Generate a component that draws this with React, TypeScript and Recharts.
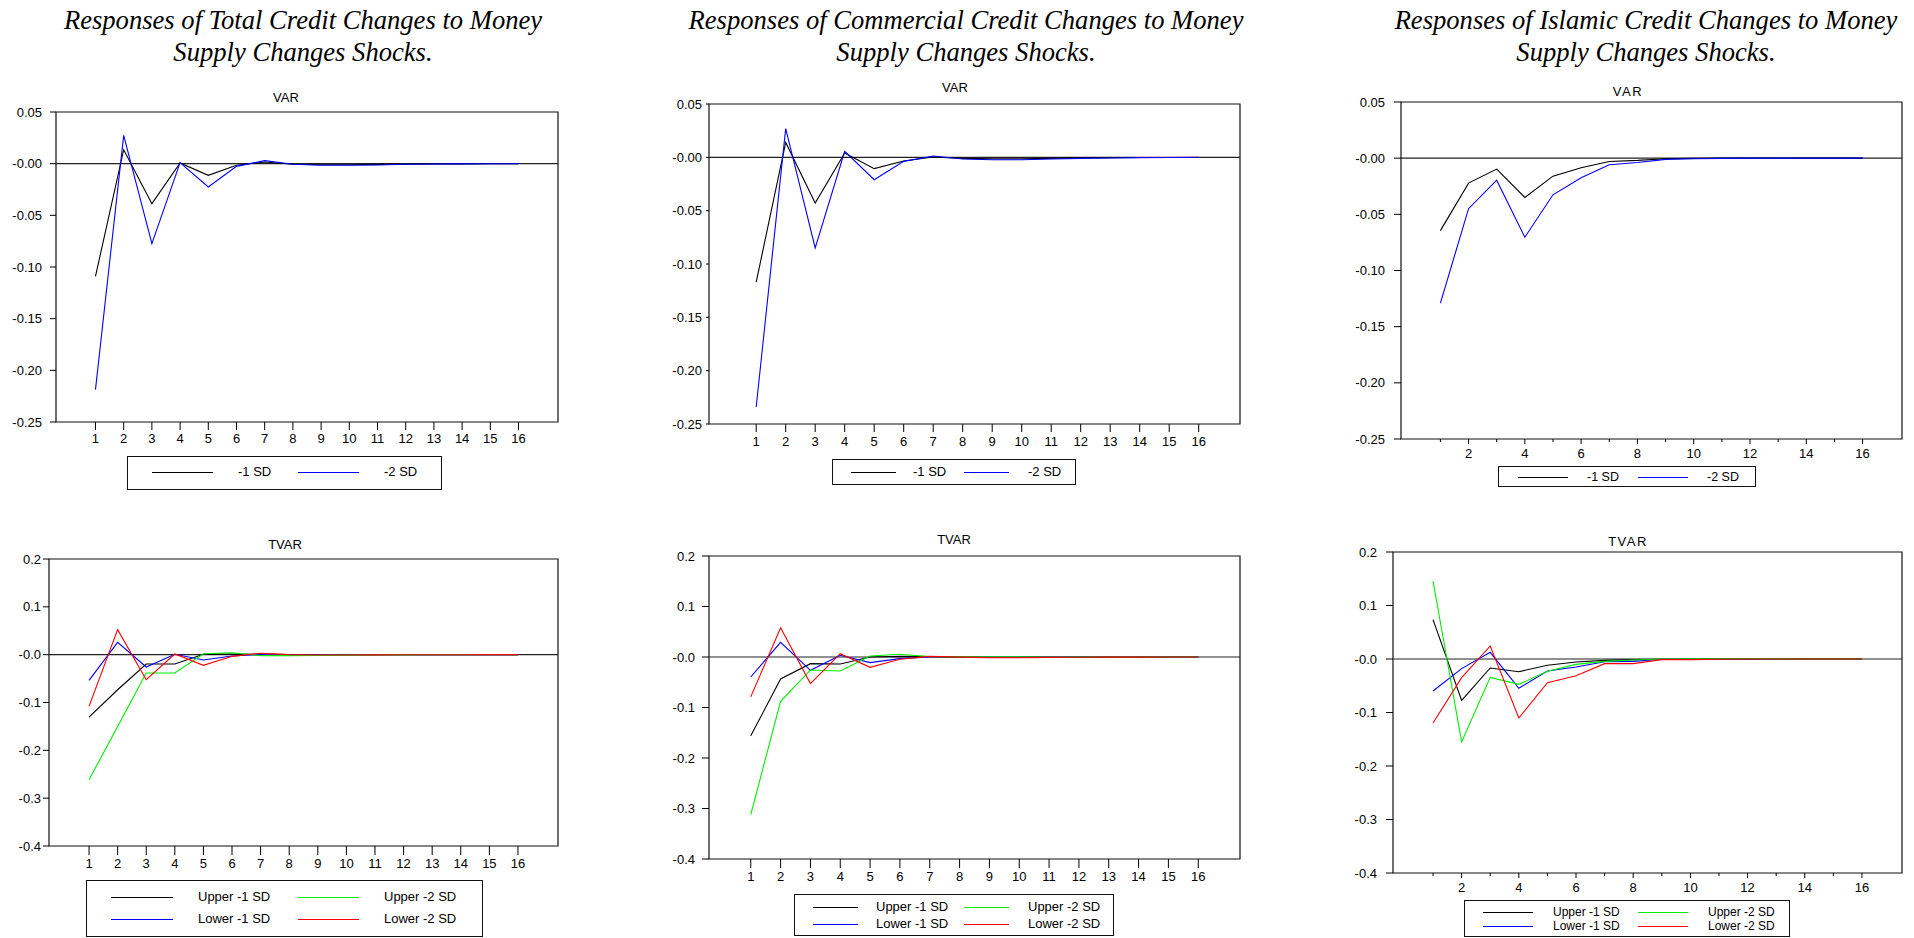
import React from "react";
import {
  LineChart,
  Line,
  XAxis,
  YAxis,
  ReferenceLine,
  ReferenceArea,
} from "recharts";

/* ────────── impulse responses: VAR (top row) and TVAR (bottom row) ────────── */

const periods = [1, 2, 3, 4, 5, 6, 7, 8, 9, 10, 11, 12, 13, 14, 15, 16];

const varYTicks = [0.05, 0, -0.05, -0.1, -0.15, -0.2, -0.25];
const varYLabels = ["0.05", "-0.00", "-0.05", "-0.10", "-0.15", "-0.20", "-0.25"];
const tvarYTicks = [0.2, 0.1, 0, -0.1, -0.2, -0.3, -0.4];
const tvarYLabels = ["0.2", "0.1", "-0.0", "-0.1", "-0.2", "-0.3", "-0.4"];

const columnTitles = [
  ["Responses of Total Credit Changes to Money", "Supply Changes Shocks."],
  ["Responses of Commercial Credit Changes to Money", "Supply Changes Shocks."],
  ["Responses of Islamic Credit Changes to Money", "Supply Changes Shocks."],
];

// total credit
const totalVarMinus1 = [-0.109, 0.0135, -0.0387, 0.0006, -0.0113, -0.0016, 0.0016, -0.0006, -0.001, -0.001, -0.0007, -0.0005, -0.0003, -0.0002, -0.0001, 0];
const totalVarMinus2 = [-0.2187, 0.0274, -0.0774, 0.001, -0.0226, -0.0026, 0.0029, -0.0006, -0.0016, -0.0016, -0.0013, -0.0006, -0.0003, -0.0002, -0.0001, 0];
const totalTvarUpper1 = [-0.1305, -0.0733, -0.0195, -0.0195, 0.0007, 0.0014, 0.0007, 0, -0.0003, -0.0003, -0.0002, -0.0001, 0, 0, 0, 0];
const totalTvarLower1 = [-0.0537, 0.0258, -0.0258, 0.0007, -0.0112, -0.0028, 0.0007, 0, -0.0002, -0.0002, -0.0001, 0, 0, 0, 0, 0];
const totalTvarUpper2 = [-0.2617, -0.15, -0.0384, -0.0384, 0.002, 0.004, -0.002, -0.002, -0.0015, -0.001, -0.0007, -0.0004, -0.0002, -0.0001, 0, 0];
const totalTvarLower2 = [-0.108, 0.0523, -0.0523, 0.0014, -0.0223, -0.0035, 0.0028, 0, -0.0007, -0.0007, -0.0005, -0.0003, -0.0002, -0.0001, 0, 0];

// commercial credit
const commVarMinus1 = [-0.117, 0.014, -0.0428, 0.004, -0.0106, -0.0034, 0.0003, -0.001, -0.0013, -0.0013, -0.001, -0.0006, -0.0003, -0.0002, -0.0001, 0];
const commVarMinus2 = [-0.234, 0.0269, -0.085, 0.0056, -0.021, -0.0038, 0.0013, -0.0016, -0.0022, -0.0022, -0.0016, -0.001, -0.0006, -0.0003, -0.0002, -0.0001];
const commTvarUpper1 = [-0.156, -0.0435, -0.0132, -0.0138, 0, 0.0013, 0.0007, 0.0002, 0, 0, 0, 0, 0, 0, 0, 0];
const commTvarLower1 = [-0.0396, 0.029, -0.0264, 0.0033, -0.0112, -0.0033, 0, 0, 0, 0, 0, 0, 0, 0, 0, 0];
const commTvarUpper2 = [-0.312, -0.0877, -0.0257, -0.0277, 0.002, 0.0053, 0.0007, 0.0003, 0.0002, 0.0002, 0.0001, 0.0001, 0, 0, 0, 0];
const commTvarLower2 = [-0.079, 0.058, -0.0527, 0.0066, -0.0204, -0.0046, 0.0013, -0.0003, -0.0013, -0.0013, -0.0008, -0.0005, -0.0003, -0.0002, -0.0001, 0];

// islamic credit
const islVarMinus1 = [-0.0645, -0.0222, -0.0097, -0.035, -0.016, -0.0086, -0.0029, -0.002, -0.0005, -0.0002, 0, 0.0001, 0.0001, 0, 0, 0];
const islVarMinus2 = [-0.129, -0.045, -0.0196, -0.0704, -0.0326, -0.0175, -0.0059, -0.0038, -0.0011, -0.0005, -0.0002, 0, 0, 0, 0, 0];
const islTvarUpper1 = [0.0735, -0.0773, -0.0168, -0.0237, -0.0118, -0.0056, -0.0025, -0.0012, -0.0006, 0, 0, 0, 0, 0, 0, 0];
const islTvarLower1 = [-0.0598, -0.018, 0.0125, -0.0548, -0.0224, -0.015, -0.005, -0.0044, -0.0006, 0, 0, 0, 0, 0, 0, 0];
const islTvarUpper2 = [0.1458, -0.155, -0.0343, -0.0474, -0.023, -0.01, -0.0044, -0.0019, 0, 0.0006, 0.0006, 0.0004, 0.0002, 0.0001, 0, 0];
const islTvarLower2 = [-0.1196, -0.0349, 0.0243, -0.1103, -0.0442, -0.0312, -0.0087, -0.0087, -0.0012, -0.0012, -0.0004, 0, 0, 0, 0, 0];

const BLACK = "#000000";
const BLUE = "#0000ff";
const GREEN = "#00ee00";
const RED = "#ff0000";

type Series = { name: string; color: string; values: number[] };

const varSeries = (a: number[], b: number[]): Series[] => [
  { name: "-1 SD", color: BLACK, values: a },
  { name: "-2 SD", color: BLUE, values: b },
];

const tvarSeries = (u1: number[], l1: number[], u2: number[], l2: number[]): Series[] => [
  { name: "Upper -1 SD", color: BLACK, values: u1 },
  { name: "Lower -1 SD", color: BLUE, values: l1 },
  { name: "Upper -2 SD", color: GREEN, values: u2 },
  { name: "Lower -2 SD", color: RED, values: l2 },
];

type LegendSpec = {
  box: [number, number, number, number]; // x, y, w, h
  rows: number[];
  lines: [number, number][];
  texts: number[];
  fontSize: number;
};

type Panel = {
  heading: string;
  spaced?: boolean;
  head: [number, number];
  frame: [number, number, number, number]; // left, right, top, bottom
  xDomain: [number, number];
  evenOnly?: boolean;
  yTicks: number[];
  yLabels: string[];
  yDomain: [number, number];
  yTick: [number, number];
  xTick: [number, number];
  series: Series[];
  legend: LegendSpec;
};

const panels: Panel[] = [
  {
    heading: "VAR",
    head: [286, 98],
    frame: [56, 558, 112, 422],
    xDomain: [-0.4, 17.4],
    yTicks: varYTicks,
    yLabels: varYLabels,
    yDomain: [-0.25, 0.05],
    yTick: [6, 8],
    xTick: [8, 4],
    series: varSeries(totalVarMinus1, totalVarMinus2),
    legend: { box: [127, 456, 315, 34], rows: [473], lines: [[152, 213], [298, 359]], texts: [238, 384], fontSize: 13 },
  },
  {
    heading: "VAR",
    head: [955, 88],
    frame: [709, 1240, 104, 424],
    xDomain: [-0.6, 17.4],
    yTicks: varYTicks,
    yLabels: varYLabels,
    yDomain: [-0.25, 0.05],
    yTick: [3, 4],
    xTick: [8, 5],
    series: varSeries(commVarMinus1, commVarMinus2),
    legend: { box: [832, 459, 244, 26], rows: [473], lines: [[851, 896], [964, 1009]], texts: [913, 1028], fontSize: 13 },
  },
  {
    heading: "VAR",
    spaced: true,
    head: [1628, 92],
    frame: [1401, 1902, 102, 439],
    xDomain: [-0.4, 17.4],
    evenOnly: true,
    yTicks: varYTicks,
    yLabels: varYLabels,
    yDomain: [-0.25, 0.05],
    yTick: [7, 9],
    xTick: [5, 5],
    series: varSeries(islVarMinus1, islVarMinus2),
    legend: { box: [1498, 466, 258, 21], rows: [477.5], lines: [[1518, 1568], [1638, 1688]], texts: [1587, 1707], fontSize: 12.5 },
  },
  {
    heading: "TVAR",
    head: [285, 545],
    frame: [49, 558, 559, 846],
    xDomain: [-0.4, 17.4],
    yTicks: tvarYTicks,
    yLabels: tvarYLabels,
    yDomain: [-0.4, 0.2],
    yTick: [6, 2],
    xTick: [9, 4],
    series: tvarSeries(totalTvarUpper1, totalTvarLower1, totalTvarUpper2, totalTvarLower2),
    legend: { box: [86, 880, 397, 57], rows: [898, 920], lines: [[111, 173], [298, 359]], texts: [198, 384], fontSize: 13 },
  },
  {
    heading: "TVAR",
    head: [954, 540],
    frame: [709, 1240, 556, 859],
    xDomain: [-0.4, 17.4],
    yTicks: tvarYTicks,
    yLabels: tvarYLabels,
    yDomain: [-0.4, 0.2],
    yTick: [7, 7],
    xTick: [9, 4],
    series: tvarSeries(commTvarUpper1, commTvarLower1, commTvarUpper2, commTvarLower2),
    legend: { box: [794, 894, 320, 42], rows: [908, 925], lines: [[813, 858], [964, 1009]], texts: [876, 1028], fontSize: 13 },
  },
  {
    heading: "TVAR",
    spaced: true,
    head: [1628, 542],
    frame: [1393, 1902, 552, 873],
    xDomain: [-0.4, 17.4],
    evenOnly: true,
    yTicks: tvarYTicks,
    yLabels: tvarYLabels,
    yDomain: [-0.4, 0.2],
    yTick: [7, 9],
    xTick: [5, 5],
    series: tvarSeries(islTvarUpper1, islTvarLower1, islTvarUpper2, islTvarLower2),
    legend: { box: [1464, 900, 326, 37], rows: [913, 927], lines: [[1483, 1533], [1638, 1688]], texts: [1553, 1708], fontSize: 12 },
  },
];

const SANS = '"Liberation Sans", Arial, sans-serif';
const YW = 60;
const MT = 6;
const MR = 6;
const XH = 30;

// x ticks drawn by hand: every period gets a mark, odd ones shorter when only even ones are labelled
function PeriodTick(props: any) {
  const { x, payload, axisY, size, margin, evenOnly } = props;
  const v = payload?.value as number;
  const odd = v % 2 === 1;
  const len = evenOnly && odd ? size - 2 : size;
  return (
    <g>
      <line x1={x} x2={x} y1={axisY} y2={axisY + len} stroke="#000" strokeWidth={1} />
      {!(evenOnly && odd) && (
        <text
          x={x}
          y={axisY + size + margin + 9.3}
          textAnchor="middle"
          fontSize={13}
          fontFamily={SANS}
          fill="#000"
        >
          {v}
        </text>
      )}
    </g>
  );
}

function PanelLegend({ spec, series }: { spec: LegendSpec; series: Series[] }) {
  const [bx, by, bw, bh] = spec.box;
  const n = spec.rows.length;
  const items: React.ReactNode[] = [];
  spec.rows.forEach((ry, r) => {
    spec.lines.forEach(([x1, x2], c) => {
      const s = series[c * n + r];
      if (!s) return;
      items.push(
        <div
          key={`l${r}${c}`}
          style={{ position: "absolute", left: x1, top: ry - 1, width: x2 - x1, height: 1.4, background: s.color }}
        />,
        <div
          key={`t${r}${c}`}
          style={{
            position: "absolute",
            left: spec.texts[c],
            top: ry - spec.fontSize * 0.6,
            fontSize: spec.fontSize,
            lineHeight: `${spec.fontSize * 1.15}px`,
            whiteSpace: "nowrap",
          }}
        >
          {s.name}
        </div>
      );
    });
  });
  return (
    <>
      <div
        style={{
          position: "absolute",
          left: bx,
          top: by,
          width: bw,
          height: bh,
          border: "1px solid #111",
          boxSizing: "border-box",
        }}
      />
      {items}
    </>
  );
}

function ResponsePanel({ p }: { p: Panel }) {
  const [L, R, T, B] = p.frame;
  const width = R - L + YW + MR;
  const height = B - T + MT + XH;
  const axisY = MT + (B - T);
  const rows = periods.map((x, i) => {
    const row: Record<string, number> = { x };
    p.series.forEach((s, k) => (row[`s${k}`] = s.values[i]));
    return row;
  });
  const tickStyle = { fill: "#000", fontSize: 13, fontFamily: SANS };

  return (
    <>
      <div
        style={{
          position: "absolute",
          left: p.head[0] - 60,
          width: 120,
          top: p.head[1] - 8,
          textAlign: "center",
          fontSize: 13,
          lineHeight: "16px",
          letterSpacing: p.spaced ? 1.5 : 0,
        }}
      >
        {p.heading}
      </div>
      <div style={{ position: "absolute", left: L - YW, top: T - MT }}>
        <LineChart width={width} height={height} data={rows} margin={{ top: MT, right: MR, left: 0, bottom: 0 }}>
          <XAxis
            dataKey="x"
            type="number"
            domain={p.xDomain}
            ticks={periods}
            interval={0}
            allowDataOverflow
            height={XH}
            axisLine={false}
            tickLine={false}
            tick={(tp: any) => (
              <PeriodTick
                {...tp}
                axisY={axisY}
                size={p.xTick[0]}
                margin={p.xTick[1]}
                evenOnly={p.evenOnly}
              />
            )}
          />
          <YAxis
            type="number"
            domain={p.yDomain}
            ticks={p.yTicks}
            interval={0}
            allowDataOverflow
            width={YW}
            axisLine={false}
            tickLine={{ stroke: "#000" }}
            tickSize={p.yTick[0]}
            tickMargin={p.yTick[1]}
            tick={tickStyle}
            tickFormatter={(v: number) => p.yLabels[p.yTicks.indexOf(v)] ?? ""}
          />
          <ReferenceLine y={0} stroke="#222" strokeWidth={1.2} />
          {p.series.map((s, k) => (
            <Line
              key={s.name}
              type="linear"
              dataKey={`s${k}`}
              stroke={s.color}
              strokeWidth={1.1}
              dot={false}
              activeDot={false}
              isAnimationActive={false}
            />
          ))}
          <ReferenceArea
            x1={p.xDomain[0]}
            x2={p.xDomain[1]}
            y1={p.yDomain[0]}
            y2={p.yDomain[1]}
            fill="none"
            fillOpacity={0}
            stroke="#111"
            strokeWidth={1.2}
            ifOverflow="visible"
          />
        </LineChart>
      </div>
      <PanelLegend spec={p.legend} series={p.series} />
    </>
  );
}

const titleCenters = [303, 966, 1646];

export default function App() {
  return (
    <div
      style={{
        position: "absolute",
        left: 0,
        top: 0,
        width: 1914,
        height: 938,
        background: "#fff",
        fontFamily: SANS,
        color: "#000",
        overflow: "hidden",
      }}
    >
      {columnTitles.map((lines, i) => (
        <div
          key={i}
          style={{
            position: "absolute",
            left: titleCenters[i] - 320,
            width: 640,
            top: 4,
            textAlign: "center",
            fontFamily: '"Liberation Serif", "Times New Roman", serif',
            fontStyle: "italic",
            fontSize: 26.6,
            lineHeight: "32px",
            whiteSpace: "nowrap",
          }}
        >
          {lines.map((t) => (
            <div key={t}>{t}</div>
          ))}
        </div>
      ))}
      {panels.map((p, i) => (
        <ResponsePanel key={i} p={p} />
      ))}
    </div>
  );
}
